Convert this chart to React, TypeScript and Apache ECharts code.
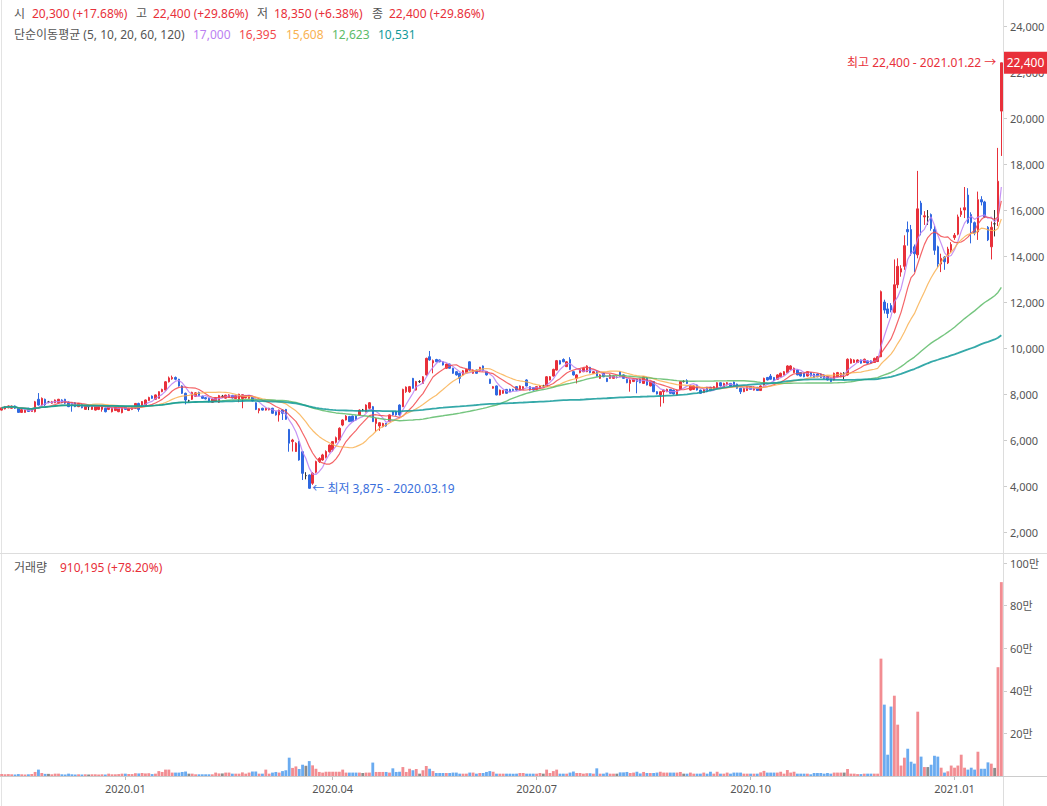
import React, { useEffect, useRef } from "react";
import * as echarts from "echarts";

// [open, close, low, high, volume]
type Day = [number, number, number, number, number];

const late2019: Day[] = [
  [7300, 7400, 7280, 7420, 9000], [7350, 7450, 7330, 7480, 8000], [7400, 7480, 7380, 7500, 9000],
  [7380, 7470, 7360, 7500, 8000], [7480, 7380, 7350, 7500, 7000], [7380, 7200, 7180, 7400, 9000],
  [7200, 7320, 7180, 7340, 8000], [7200, 7300, 7190, 7320, 7000], [7380, 7240, 7220, 7400, 8000],
  [7240, 7330, 7220, 7350, 9000], [7230, 7660, 7200, 7700, 19000], [7770, 7520, 7500, 8040, 30000],
  [7520, 7810, 7480, 7850, 14000], [7770, 7530, 7480, 7800, 10000], [7650, 7650, 7600, 7700, 10000],
  [7600, 7660, 7580, 7700, 8000], [7620, 7740, 7600, 7760, 11000], [7620, 7770, 7600, 7790, 11000],
  [7740, 7620, 7600, 7770, 8000], [7770, 7600, 7560, 7790, 7000], [7650, 7450, 7430, 7680, 11000],
  [7620, 7520, 7230, 7640, 8000], [7620, 7450, 7430, 7650, 7000], [7450, 7590, 7430, 7610, 8000],
  [7550, 7400, 7380, 7570, 7000], [7330, 7480, 7310, 7500, 8000], [7450, 7450, 7300, 7470, 7000],
  [7330, 7480, 7310, 7500, 8000], [7300, 7480, 7280, 7500, 8000], [7330, 7450, 7300, 7470, 7000],
  [7330, 7480, 7230, 7500, 8000], [7380, 7230, 7200, 7400, 7000], [7330, 7450, 7300, 7470, 11000],
  [7230, 7380, 7200, 7400, 8000], [7280, 7420, 7260, 7440, 8000], [7230, 7380, 7210, 7400, 9000],
  [7190, 7380, 7160, 7400, 11000],
];

const q1_2020: Day[] = [
  [7450, 7330, 7310, 7470, 11000], [7280, 7380, 7260, 7400, 9000], [7330, 7420, 7300, 7440, 9000],
  [7380, 7590, 7360, 7610, 13000], [7590, 7330, 7230, 7620, 12000], [7450, 7670, 7430, 7690, 14000],
  [7520, 7740, 7500, 7760, 12000], [7720, 7850, 7700, 7880, 13000], [7910, 7810, 7790, 7940, 9000],
  [7770, 7960, 7750, 7980, 11000], [7810, 8100, 7800, 8120, 23000], [8100, 8200, 8080, 8230, 19000],
  [8170, 8530, 8150, 8560, 30000], [8530, 8700, 8500, 8760, 30000], [8660, 8720, 8620, 8800, 16000],
  [8720, 8640, 8600, 8760, 16000], [8640, 8350, 8320, 8660, 16000], [8350, 8030, 8000, 8380, 19000],
  [8030, 7740, 7550, 8060, 21000], [7700, 7700, 7650, 7750, 11000], [7770, 8070, 7740, 8100, 11000],
  [7900, 8050, 7870, 8080, 8000], [8070, 7940, 7910, 8100, 8000], [7900, 7810, 7790, 7930, 8000],
  [7840, 7790, 7760, 7870, 8000], [7810, 7670, 7640, 7840, 8000], [7640, 7780, 7620, 7800, 8000],
  [7680, 7840, 7660, 7870, 16000], [7640, 7930, 7610, 7960, 12000], [7900, 7900, 7840, 7960, 12000],
  [7820, 7950, 7800, 7970, 16000], [7850, 7960, 7830, 7990, 16000], [7940, 7830, 7810, 7960, 11000],
  [7800, 7930, 7780, 7960, 11000], [7760, 7990, 7640, 8010, 11000], [7800, 7970, 7380, 7990, 17000],
  [7830, 7930, 7810, 7960, 11000], [7810, 7920, 7790, 7950, 16000], [7880, 7700, 7680, 7900, 21000],
  [7620, 7330, 7300, 7640, 21000], [7280, 7360, 7160, 7380, 11000], [7380, 7300, 7280, 7400, 11000],
  [7300, 7380, 7280, 7400, 30000], [7310, 7380, 7290, 7400, 11000], [7380, 7160, 7140, 7400, 16000],
  [7230, 7090, 7060, 7250, 19000], [7090, 7300, 6800, 7320, 16000], [7300, 7160, 6870, 7330, 23000],
  [7330, 6900, 6880, 7350, 27000], [6460, 5860, 5490, 6480, 86000], [5930, 6000, 5500, 6050, 38000],
  [5500, 5860, 5480, 5900, 45000], [5930, 5130, 5100, 5960, 33000], [5490, 4550, 4260, 5520, 53000],
  [4450, 4450, 4290, 4600, 48000], [4480, 3900, 3875, 4500, 70000], [4120, 4550, 4050, 4600, 50000],
  [4600, 5060, 4550, 5100, 34000], [5060, 5200, 5000, 5250, 19000], [5130, 5350, 5100, 5400, 16000],
  [5250, 5500, 5200, 5550, 20000], [5490, 5780, 5450, 5800, 20000],
];

const q2_2020: Day[] = [
  [5570, 5930, 5500, 5950, 20000], [5900, 6100, 5850, 6150, 20000], [6000, 6510, 5980, 6550, 20000],
  [6650, 6870, 6600, 6900, 30000], [6870, 7040, 6850, 7080, 16000], [7020, 6800, 6780, 7050, 16000],
  [7040, 6800, 6780, 7060, 16000], [7040, 6870, 6850, 7060, 16000], [7090, 7300, 7060, 7330, 16000],
  [7300, 7300, 7250, 7350, 14000], [7230, 7520, 7200, 7550, 16000], [7380, 7620, 7350, 7650, 16000],
  [7450, 6800, 6780, 7480, 63000], [6720, 6940, 6360, 6960, 19000], [6610, 6750, 6400, 6780, 19000],
  [6580, 6720, 6550, 6750, 19000], [6720, 6610, 6580, 6740, 19000], [6800, 7090, 6780, 7110, 16000],
  [7230, 7090, 7060, 7250, 36000], [7230, 7090, 7060, 7250, 19000], [7520, 7090, 7060, 7550, 20000],
  [7450, 8200, 7430, 8230, 42000], [8100, 8300, 8050, 8330, 19000], [8100, 8320, 8050, 8350, 34000],
  [8680, 8250, 8230, 8700, 27000], [8170, 8540, 8150, 8570, 33000], [8540, 8540, 8480, 8600, 11000],
  [8460, 8750, 8440, 8780, 27000], [8830, 9550, 8800, 9580, 47000], [9620, 9480, 9450, 9870, 34000],
  [9350, 9450, 8900, 9500, 23000], [9500, 9400, 9380, 9530, 14000], [9480, 9400, 9380, 9500, 14000],
  [9400, 9260, 9240, 9420, 14000], [9120, 9300, 9100, 9320, 14000], [9300, 9120, 9100, 9320, 14000],
  [9120, 8900, 8880, 9140, 16000], [8970, 8830, 8800, 9000, 16000], [8900, 8680, 8460, 8920, 11000],
  [8830, 9010, 8800, 9040, 11000], [8930, 9070, 8900, 9100, 11000], [9400, 9040, 9020, 9420, 16000],
  [8900, 9040, 8880, 9060, 16000], [9040, 8900, 8880, 9060, 11000], [9010, 9160, 8990, 9180, 14000],
  [9220, 9010, 8990, 9240, 14000], [8970, 8830, 8800, 9000, 19000], [8640, 8460, 8440, 8660, 23000],
  [8250, 8320, 8230, 8350, 20000], [8350, 7960, 7940, 8370, 11000], [7960, 8170, 7940, 8190, 11000],
  [8030, 8150, 8010, 8170, 11000], [8200, 8030, 8010, 8220, 11000], [8200, 8100, 8080, 8230, 11000],
  [8200, 8150, 8130, 8230, 11000], [8320, 8170, 8150, 8340, 11000], [8170, 8350, 8150, 8370, 14000],
  [8200, 8320, 8180, 8340, 14000], [8610, 8350, 8330, 8640, 11000], [8320, 8170, 8150, 8340, 11000],
  [8280, 8170, 8150, 8300, 11000],
];

const q3_2020: Day[] = [
  [8200, 8320, 8180, 8340, 11000], [8250, 8350, 8230, 8370, 14000], [8350, 8350, 8300, 8400, 11000],
  [8320, 8750, 8300, 8780, 30000], [8610, 8750, 8590, 8780, 14000], [8780, 9070, 8760, 9100, 23000],
  [9040, 9450, 9020, 9480, 30000], [9450, 9300, 9280, 9480, 11000], [9500, 9400, 9380, 9550, 11000],
  [9190, 9400, 9170, 9430, 11000], [9500, 9070, 9050, 9600, 16000], [8970, 8830, 8800, 9000, 21000],
  [8680, 8830, 8460, 8860, 14000], [8930, 9070, 8900, 9100, 14000], [8970, 9120, 8950, 9150, 11000],
  [8970, 9220, 8950, 9250, 13000], [9160, 8930, 8900, 9180, 13000], [8900, 8970, 8880, 9000, 11000],
  [8970, 8780, 8760, 9000, 36000], [8680, 8830, 8660, 8860, 11000], [8900, 8750, 8730, 8920, 11000],
  [8680, 8540, 8520, 8700, 16000], [8680, 8830, 8660, 8860, 11000], [8680, 8780, 8660, 8800, 11000],
  [8720, 8720, 8680, 8760, 11000], [8970, 8780, 8760, 9000, 17000], [8830, 8680, 8660, 8850, 17000],
  [8640, 8490, 8470, 8660, 19000], [8460, 8610, 8100, 8640, 14000], [8540, 8640, 8520, 8660, 16000],
  [8640, 8540, 8030, 8660, 20000], [8640, 8490, 8470, 8660, 12000], [8460, 8750, 8440, 8780, 19000],
  [8720, 8390, 8370, 8740, 14000], [8350, 8540, 8330, 8560, 14000], [8540, 8100, 8080, 8560, 14000],
  [8100, 8000, 7980, 8120, 16000], [7960, 8100, 7450, 8120, 20000], [8100, 8170, 7600, 8200, 16000],
  [8100, 8200, 8080, 8230, 16000], [8200, 8030, 8010, 8220, 16000], [8170, 8000, 7980, 8190, 16000],
  [7960, 8170, 7940, 8190, 16000], [8200, 8540, 8180, 8570, 19000], [8540, 8540, 8500, 8600, 11000],
  [8580, 8460, 8440, 8640, 11000], [8170, 8350, 8150, 8380, 16000], [8200, 8350, 8180, 8380, 11000],
  [8390, 8170, 8150, 8410, 11000], [8170, 8030, 8010, 8190, 11000], [8060, 8200, 8040, 8230, 16000],
  [8290, 8100, 8080, 8310, 11000], [8290, 8150, 8130, 8310, 20000], [8200, 8320, 8180, 8350, 11000],
  [8250, 8490, 8230, 8520, 20000], [8490, 8350, 8330, 8510, 11000], [8320, 8460, 8300, 8490, 11000],
  [8390, 8490, 8370, 8520, 16000], [8460, 8350, 8330, 8480, 11000], [8520, 8350, 8330, 8540, 16000],
  [8430, 8250, 8230, 8450, 16000], [8250, 8100, 8000, 8270, 16000], [8100, 8250, 8080, 8280, 11000],
  [8150, 8320, 8130, 8350, 11000],
];

const q4_2020: Day[] = [
  [8320, 8200, 8180, 8340, 11000], [8170, 8290, 8150, 8320, 11000], [8290, 8150, 8130, 8310, 11000],
  [8150, 8350, 8130, 8380, 17000], [8390, 8680, 8370, 8710, 24000], [8720, 8610, 8590, 8740, 16000],
  [8780, 8640, 8620, 8870, 16000], [8720, 8580, 8560, 8740, 16000], [8640, 8830, 8620, 8860, 16000],
  [8750, 8900, 8730, 8930, 20000], [8830, 8970, 8810, 9000, 11000], [8930, 9220, 8910, 9250, 28000],
  [9070, 9220, 9050, 9250, 16000], [8930, 9120, 8910, 9150, 20000], [9040, 8830, 8810, 9060, 11000],
  [8930, 8780, 8760, 8950, 11000], [8900, 8750, 8730, 8920, 11000], [8780, 8970, 8760, 9000, 11000],
  [8930, 8780, 8760, 8950, 8000], [8870, 8720, 8700, 8890, 14000], [8870, 8750, 8730, 8890, 14000],
  [8870, 8720, 8700, 8890, 14000], [8830, 8680, 8660, 8850, 11000], [8750, 8610, 8590, 8770, 14000],
  [8680, 8540, 8520, 8700, 11000], [8610, 8900, 8590, 8930, 16000], [8750, 8930, 8730, 8960, 16000],
  [8750, 8900, 8730, 8930, 16000], [8900, 8900, 8640, 8950, 16000], [8830, 9510, 8800, 9550, 33000],
  [9340, 9510, 9320, 9550, 11000], [9370, 9480, 9350, 9510, 11000], [9370, 9480, 9350, 9510, 9000],
  [9480, 9340, 9320, 9500, 9000], [9370, 9510, 9350, 9540, 11000], [9440, 9340, 9320, 9460, 11000],
  [9440, 9340, 9320, 9460, 11000], [9370, 9550, 9350, 9580, 11000], [9410, 9620, 9390, 9650, 11000],
  [9620, 12450, 9600, 12500, 551000], [12000, 11650, 11500, 12100, 335000], [11700, 11500, 11300, 11950, 100000],
  [11850, 11650, 11550, 11950, 326000], [11550, 12750, 11500, 13850, 377000], [12750, 13550, 12600, 13900, 241000],
  [13300, 13450, 13100, 13600, 49000], [13550, 14450, 13400, 14900, 86000], [15150, 15050, 14450, 15500, 128000],
  [15150, 14100, 14000, 15350, 67000], [14400, 14100, 13300, 14500, 58000], [14050, 16050, 13900, 17700, 302000],
  [16300, 15800, 14900, 16400, 91000], [15700, 15750, 15350, 15950, 42000], [15700, 15700, 15350, 16000, 42000],
  [15800, 15200, 15100, 15850, 53000], [15150, 14250, 14050, 15300, 95000], [14400, 13650, 13500, 14450, 91000],
  [13650, 13900, 13300, 14100, 39000], [13950, 13750, 13400, 14000, 16000], [13700, 14300, 13650, 14400, 22000],
  [14250, 14500, 14150, 14600, 49000],
];

const jan2021: Day[] = [
  [14800, 14900, 14700, 15000, 39000], [14950, 15700, 14900, 15800, 49000], [15800, 15950, 15700, 16100, 100000],
  [16000, 16100, 15650, 17000, 39000], [16650, 15450, 15400, 16950, 30000], [15800, 15450, 14550, 15900, 39000],
  [15450, 15000, 14900, 15500, 30000], [15050, 16450, 14700, 16800, 114000], [16450, 16350, 16200, 16600, 34000],
  [16350, 15700, 15650, 16400, 34000], [15250, 14700, 14650, 15300, 64000], [14400, 15250, 13850, 15500, 58000],
  [15400, 15400, 14850, 16000, 38000], [15500, 17250, 15300, 18700, 510772], [20300, 22400, 18350, 22400, 910195],
];

const holidays = [
  "2019-12-25", "2019-12-31", "2020-01-01", "2020-01-24", "2020-01-27", "2020-04-15", "2020-04-30",
  "2020-05-01", "2020-05-05", "2020-08-17", "2020-09-30", "2020-10-01", "2020-10-02", "2020-10-09",
  "2020-12-25", "2020-12-31", "2021-01-01",
];
const firstTradingDay = "2019-11-07";

const maPeriods = [5, 10, 20, 60, 120];
const maColors = ["#bb80f2", "#f24a4e", "#f9b252", "#5dbb69", "#129a9a"];
const maWidths = [1.2, 1.2, 1.2, 1.4, 1.8];
const maValueTexts = ["17,000", "16,395", "15,608", "12,623", "10,531"];
const ohlcLabels = ["시", "고", "저", "종"];
const ohlcTexts = ["20,300 (+17.68%)", "22,400 (+29.86%)", "18,350 (+6.38%)", "22,400 (+29.86%)"];
const maTitle = "단순이동평균 (5, 10, 20, 60, 120)";
const volumeTitle = "거래량";
const volumeText = "910,195 (+78.20%)";
const highText = "최고 22,400 - 2021.01.22 →";
const lowText = "← 최저 3,875 - 2020.03.19";
const lastPriceText = "22,400";

const RED = "#e8303a";
const BLUE = "#2f68e0";
const DOJI = "#333333";
const VOL_RED = "#f28d92";
const VOL_BLUE = "#6aabf0";
const VOL_GRAY = "#8c8c8c";
const GRAY_TEXT = "#555555";
const FONT = '"Noto Sans", "Noto Sans CJK KR", sans-serif';

const days: Day[] = [...late2019, ...q1_2020, ...q2_2020, ...q3_2020, ...q4_2020, ...jan2021];

function buildDates(n: number): string[] {
  const out: string[] = [];
  const d = new Date(firstTradingDay + "T00:00:00Z");
  while (out.length < n) {
    const dow = d.getUTCDay();
    const s = d.toISOString().slice(0, 10);
    if (dow !== 0 && dow !== 6 && holidays.indexOf(s) < 0) out.push(s);
    d.setUTCDate(d.getUTCDate() + 1);
  }
  return out;
}

function movingAverage(closes: number[], n: number): number[] {
  return closes.map((_, i) => {
    const s = Math.max(0, i - n + 1);
    let sum = 0;
    for (let j = s; j <= i; j++) sum += closes[j];
    return Math.round(sum / (i - s + 1));
  });
}

export default function App() {
  const ref = useRef<HTMLDivElement>(null);

  useEffect(() => {
    if (!ref.current) return;
    const chart = echarts.init(ref.current, undefined, { renderer: "svg" });
    const dates = buildDates(days.length);
    const closes = days.map((d) => d[1]);
    const quarterStart = dates.map((s, i) => {
      const m = +s.slice(5, 7);
      return (m === 1 || m === 4 || m === 7 || m === 10) && i > 0 && dates[i - 1].slice(5, 7) !== s.slice(5, 7);
    });

    const option: any = {
      animation: false,
      textStyle: { fontFamily: FONT },
      grid: [
        { left: 0, right: 44, top: 26, height: 506, outerBoundsMode: "none" },
        { left: 0, right: 44, top: 563, height: 213, outerBoundsMode: "none" },
      ],
      xAxis: [
        { type: "category", gridIndex: 0, data: dates, boundaryGap: true, show: false },
        {
          type: "category",
          gridIndex: 1,
          data: dates,
          boundaryGap: true,
          axisLine: { show: false },
          axisTick: {
            show: true,
            alignWithLabel: true,
            length: 4,
            interval: (i: number) => quarterStart[i],
            lineStyle: { color: "#bbbbbb" },
          },
          axisLabel: {
            interval: (i: number) => quarterStart[i],
            formatter: (v: string) => v.slice(0, 4) + "." + v.slice(5, 7),
            color: GRAY_TEXT,
            fontSize: 11,
            margin: 7,
          },
          splitLine: { show: false },
        },
      ],
      yAxis: [
        {
          type: "value",
          gridIndex: 0,
          position: "right",
          min: 2000,
          max: 24000,
          interval: 2000,
          axisLine: { show: false },
          axisTick: { show: true, length: 4, lineStyle: { color: "#cccccc" } },
          axisLabel: {
            color: GRAY_TEXT,
            fontSize: 11,
            margin: 7,
            formatter: (v: number) => v.toLocaleString("en-US"),
          },
          splitLine: { show: false },
        },
        {
          type: "value",
          gridIndex: 1,
          position: "right",
          min: 0,
          max: 1000000,
          interval: 200000,
          axisLine: { show: false },
          axisTick: { show: true, length: 4, lineStyle: { color: "#cccccc" } },
          axisLabel: {
            color: GRAY_TEXT,
            fontSize: 11,
            margin: 7,
            formatter: (v: number) => (v === 0 ? "" : v / 10000 + "만"),
          },
          splitLine: { show: false },
        },
      ],
      series: [
        {
          type: "candlestick",
          xAxisIndex: 0,
          yAxisIndex: 0,
          data: days.map((d) => [d[0], d[1], d[2], d[3]]),
          barWidth: 2,
          itemStyle: {
            color: RED,
            color0: BLUE,
            borderColor: RED,
            borderColor0: BLUE,
            borderColorDoji: DOJI,
            borderWidth: 1,
          },
          z: 2,
        },
        ...maPeriods.map((p, k) => ({
          type: "line",
          xAxisIndex: 0,
          yAxisIndex: 0,
          data: movingAverage(closes, p),
          showSymbol: false,
          symbol: "none",
          lineStyle: { color: maColors[k], width: maWidths[k], opacity: 0.85 },
          z: 3,
        })),
        {
          type: "bar",
          xAxisIndex: 1,
          yAxisIndex: 1,
          barWidth: "85%",
          data: days.map((d) => ({
            value: d[4],
            itemStyle: { color: d[1] > d[0] ? VOL_RED : d[1] < d[0] ? VOL_BLUE : VOL_GRAY },
          })),
        },
      ],
    };
    chart.setOption(option);

    // annotation anchors from data
    let hi = 0;
    let lo = 0;
    days.forEach((d, i) => {
      if (d[3] >= days[hi][3]) hi = i;
      if (d[2] < days[lo][2]) lo = i;
    });
    const last = days.length - 1;
    const pHigh = chart.convertToPixel({ xAxisIndex: 0, yAxisIndex: 0 }, [hi, days[hi][3]]) as number[];
    const pLow = chart.convertToPixel({ xAxisIndex: 0, yAxisIndex: 0 }, [lo, days[lo][2]]) as number[];
    const pLast = chart.convertToPixel({ xAxisIndex: 0, yAxisIndex: 0 }, [last, days[last][1]]) as number[];

    const txt = (text: string, x: number, y: number, fill: string, align = "left", size = 12) => ({
      type: "text",
      x,
      y,
      silent: true,
      z: 10,
      style: { text, fill, font: `${size}px ${FONT}`, textAlign: align, textVerticalAlign: "middle" },
    });
    const line = (x1: number, y1: number, x2: number, y2: number, color: string) => ({
      type: "line",
      silent: true,
      z: 1,
      shape: { x1, y1, x2, y2 },
      style: { stroke: color, lineWidth: 1 },
    });

    const labelX = [14, 136, 257, 372];
    const valueX = [32, 153, 274, 389];
    const maX = [193, 239, 286, 332, 378];

    const graphic: any[] = [
      line(1.5, 0, 1.5, 806, "#e3e3e3"),
      line(1003.5, 0, 1003.5, 806, "#dddddd"),
      line(0, 553.5, 1047, 553.5, "#dddddd"),
      line(0, 776.5, 1047, 776.5, "#cccccc"),
      ...ohlcLabels.map((t, k) => txt(t, labelX[k], 13, GRAY_TEXT)),
      ...ohlcTexts.map((t, k) => txt(t, valueX[k], 13, RED)),
      txt(maTitle, 14, 34, GRAY_TEXT),
      ...maValueTexts.map((t, k) => txt(t, maX[k], 34, maColors[k])),
      txt(volumeTitle, 14, 567, GRAY_TEXT),
      txt(volumeText, 60, 567, RED),
      txt(highText, pHigh[0] - 5, pHigh[1], RED, "right"),
      txt(lowText, pLow[0] + 3, pLow[1], "#3a6fdc"),
      {
        type: "rect",
        silent: true,
        z: 9,
        shape: { x: 1004, y: pLast[1] - 11, width: 43, height: 22 },
        style: { fill: RED },
      },
      txt(lastPriceText, 1025.5, pLast[1], "#ffffff", "center"),
    ];
    chart.setOption({ graphic });

    return () => chart.dispose();
  }, []);

  return (
    <div
      ref={ref}
      style={{ position: "absolute", left: 0, top: 0, width: 1047, height: 806, background: "#ffffff" }}
    />
  );
}
